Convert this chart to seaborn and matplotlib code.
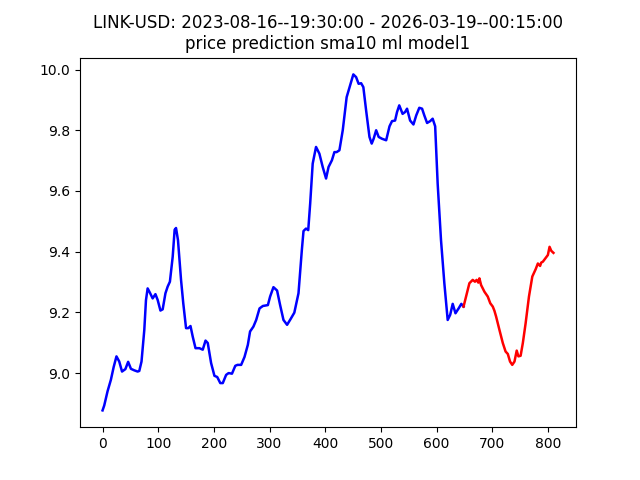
import matplotlib
matplotlib.use("Agg")
import matplotlib.pyplot as plt
import seaborn as sns
import pandas as pd

title = "LINK-USD: 2023-08-16--19:30:00 - 2026-03-19--00:15:00\nprice prediction sma10 ml model1"

hist_x = [0, 3, 9, 15, 20, 25, 30, 35, 41, 46, 51, 57, 63, 66, 70, 75, 78, 81, 85, 90, 95, 99,
          104, 108, 113, 117, 121, 126, 129.5, 132, 135.5, 141, 145, 150, 154, 158, 162, 167, 174,
          180, 185, 189, 195, 201, 206, 211.5, 216, 222, 226.5, 232.5, 238.5, 242.5, 249, 255,
          261, 265, 271, 276, 282, 288, 297, 301, 307, 313.5, 319, 325, 331.5, 337.5, 344.5, 352,
          358, 361, 365.5, 369.5, 373, 377.5, 383.5, 389.5, 395.5, 401.5, 406, 412, 416.5, 420.5,
          425.5, 431.5, 438.5, 444.5, 450.5, 455.5, 460, 464.5, 468.5, 473.5, 479.5, 483.5, 487,
          491.5, 496, 502, 509.5, 515.5, 520, 525.5, 529, 533, 539, 543.5, 547, 552.5, 558.5,
          563.5, 569, 574, 578, 583, 588.5, 593, 597.5, 602, 608, 614, 620, 624.5, 629, 634, 640,
          644.5, 648.5]
hist_y = [8.877, 8.893, 8.94, 8.978, 9.02, 9.055, 9.038, 9.005, 9.013, 9.037, 9.014, 9.009, 9.005,
          9.007, 9.038, 9.142, 9.24, 9.279, 9.265, 9.246, 9.26, 9.241, 9.206, 9.21, 9.263, 9.285,
          9.301, 9.383, 9.472, 9.478, 9.438, 9.307, 9.23, 9.148, 9.148, 9.155, 9.12, 9.082, 9.082,
          9.077, 9.107, 9.099, 9.033, 8.991, 8.987, 8.967, 8.967, 8.994, 9.0, 8.998, 9.024, 9.027,
          9.027, 9.053, 9.093, 9.137, 9.153, 9.175, 9.213, 9.221, 9.224, 9.252, 9.283, 9.272,
          9.224, 9.175, 9.159, 9.177, 9.199, 9.263, 9.405, 9.468, 9.476, 9.471, 9.559, 9.69, 9.745,
          9.723, 9.679, 9.641, 9.679, 9.701, 9.728, 9.728, 9.734, 9.8, 9.909, 9.947, 9.984, 9.975,
          9.953, 9.955, 9.942, 9.865, 9.778, 9.756, 9.772, 9.8, 9.778, 9.772, 9.767, 9.813, 9.83,
          9.832, 9.86, 9.882, 9.854, 9.86, 9.871, 9.832, 9.819, 9.849, 9.874, 9.871, 9.849, 9.824,
          9.83, 9.838, 9.813, 9.624, 9.438, 9.296, 9.175, 9.192, 9.228, 9.197, 9.214, 9.228, 9.219]

pred_x = [648.5, 653, 659, 665, 669, 672, 675, 677, 680, 686, 689, 692, 696.5, 701, 704, 707, 713,
          719, 724, 728, 732, 736, 740, 744, 747, 751, 755, 760, 766, 772, 778, 782, 786, 788,
          791, 795.5, 800, 803, 806, 810]
pred_y = [9.219, 9.252, 9.296, 9.307, 9.301, 9.307, 9.298, 9.312, 9.29, 9.268, 9.26, 9.252, 9.23,
          9.219, 9.205, 9.186, 9.142, 9.099, 9.071, 9.063, 9.038, 9.027, 9.038, 9.074, 9.055,
          9.057, 9.099, 9.164, 9.252, 9.318, 9.342, 9.361, 9.353, 9.364, 9.367, 9.378, 9.389,
          9.416, 9.403, 9.396]

hist = pd.DataFrame({"x": hist_x, "y": hist_y})
pred = pd.DataFrame({"x": pred_x, "y": pred_y})

fig, ax = plt.subplots(figsize=(6.4, 4.8), dpi=100)
sns.lineplot(data=hist, x="x", y="y", color="blue", linewidth=1.8, sort=False, ax=ax)
sns.lineplot(data=pred, x="x", y="y", color="red", linewidth=1.8, sort=False, ax=ax)
ax.set_xlabel("")
ax.set_ylabel("")
ax.set_title(title)
fig.savefig("out.png", dpi=100)
